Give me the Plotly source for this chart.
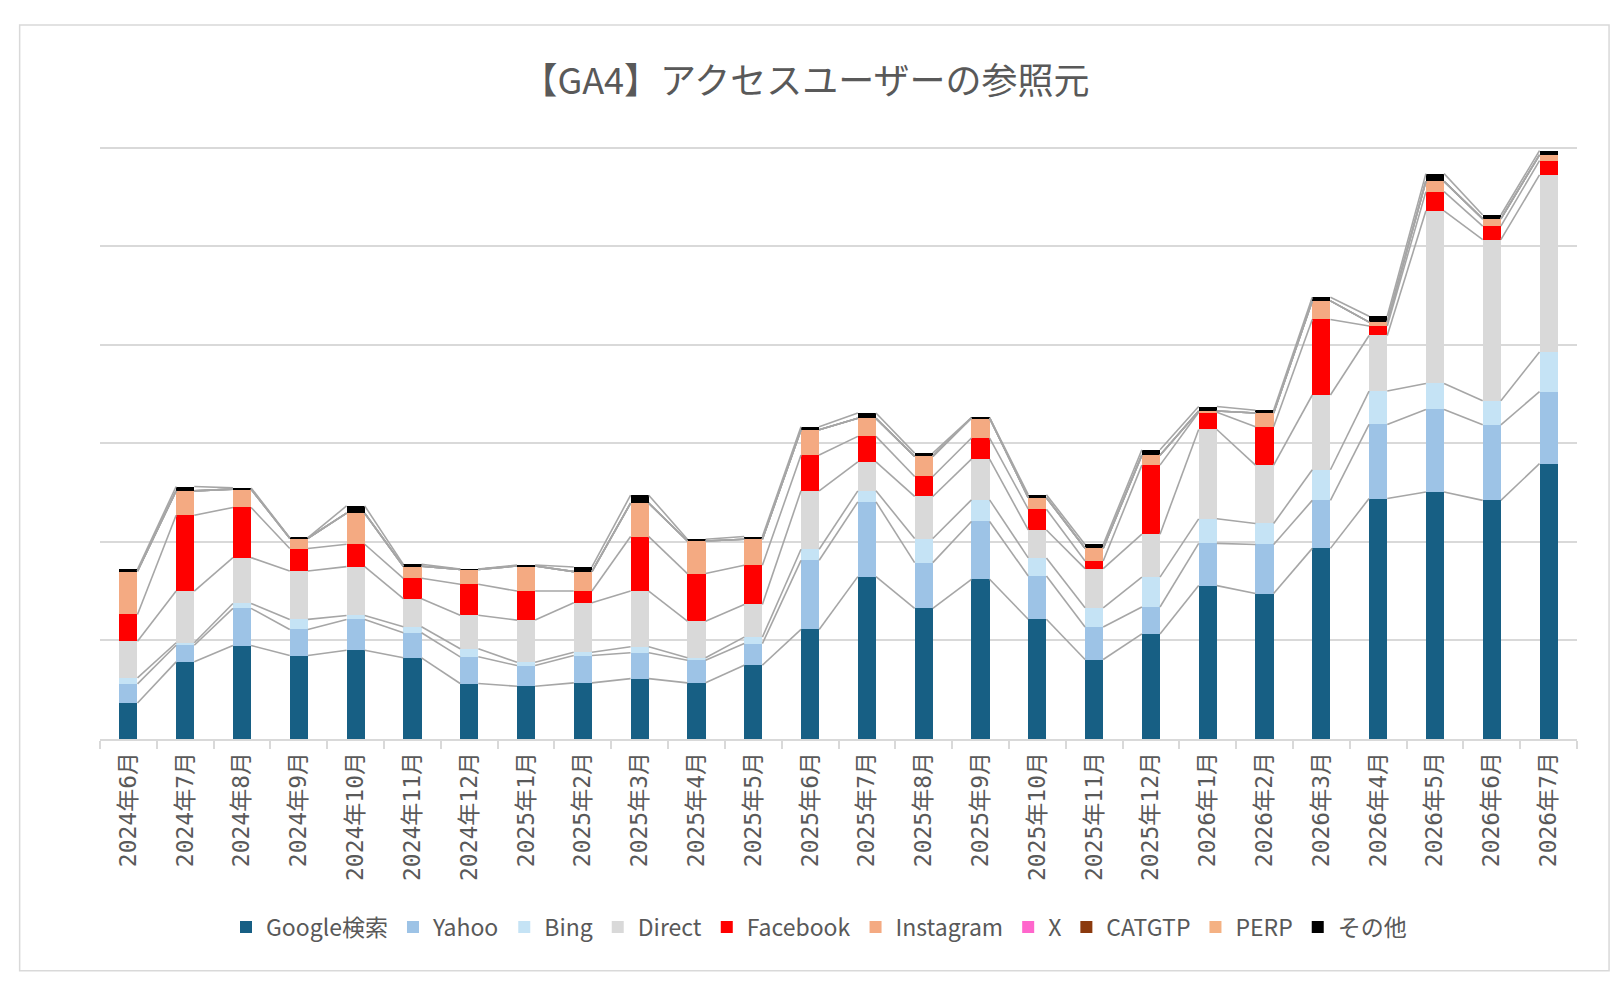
import plotly.graph_objects as go

# 【GA4】アクセスユーザーの参照元 - stacked bars with series lines
months = [
    "2024年6月", "2024年7月", "2024年8月", "2024年9月", "2024年10月", "2024年11月",
    "2024年12月", "2025年1月", "2025年2月", "2025年3月", "2025年4月", "2025年5月",
    "2025年6月", "2025年7月", "2025年8月", "2025年9月", "2025年10月", "2025年11月",
    "2025年12月", "2026年1月", "2026年2月", "2026年3月", "2026年4月", "2026年5月",
    "2026年6月", "2026年7月",
]

google = [36.6, 78.3, 94.9, 84.7, 90.1, 82.4, 56.3, 53.5, 57.0, 61.3, 57.0, 74.9, 111.2,
          164.8, 132.6, 162.1, 121.5, 80.7, 106.7, 155.7, 147.6, 193.5, 244.1, 250.8, 242.2, 279.5]
yahoo = [19.4, 16.9, 37.7, 26.5, 31.3, 25.4, 27.1, 21.1, 27.7, 26.2, 23.0, 22.0, 70.2,
         75.9, 46.4, 58.7, 44.0, 33.0, 27.3, 42.9, 49.9, 48.7, 75.2, 83.7, 76.7, 73.2]
bing = [6.0, 2.5, 5.0, 10.2, 4.0, 6.1, 8.2, 3.3, 3.4, 6.1, 2.4, 6.5, 11.2,
        11.2, 24.5, 21.9, 18.3, 19.5, 30.3, 24.9, 21.3, 31.1, 33.9, 26.4, 24.5, 40.1]
direct = [37.3, 52.5, 46.5, 49.1, 49.6, 28.5, 34.1, 42.8, 50.2, 56.6, 37.2, 33.2, 59.3,
          29.5, 42.7, 41.4, 28.4, 39.7, 43.6, 90.7, 59.2, 75.9, 56.4, 175.2, 163.5, 179.8]
facebook = [27.1, 77.0, 50.9, 22.8, 22.7, 20.7, 31.3, 29.5, 11.9, 55.3, 48.3, 39.7, 36.3,
            25.8, 20.3, 21.4, 21.1, 7.8, 70.1, 17.5, 39.0, 76.7, 9.7, 19.5, 13.7, 14.5]
instagram = [44.1, 24.7, 18.6, 10.5, 31.5, 12.2, 15.2, 25.4, 19.7, 33.9, 33.1, 26.4, 25.7,
             18.3, 20.4, 20.3, 11.7, 12.9, 10.1, 1.3, 13.9, 18.8, 3.9, 10.5, 7.4, 5.8]
x_sns = [0] * 26
catgtp = [0] * 26
perp = [0] * 26
other = [1.7, 4.4, 1.3, 0.5, 7.4, 2.0, 0.3, 1.0, 4.7, 8.1, 1.7, 2.8, 3.1,
         5.4, 3.3, 0.5, 3.0, 3.9, 5.5, 4.5, 2.8, 3.8, 5.9, 7.8, 3.9, 4.4]

series = [
    ("Google検索", google, "#175f84"),
    ("Yahoo", yahoo, "#9dc3e6"),
    ("Bing", bing, "#c5e3f5"),
    ("Direct", direct, "#d9d9d9"),
    ("Facebook", facebook, "#ff0000"),
    ("Instagram", instagram, "#f4aa82"),
    ("X", x_sns, "#ff66cc"),
    ("CATGTP", catgtp, "#8b3a0e"),
    ("PERP", perp, "#f4b183"),
    ("その他", other, "#000000"),
]

bar_w = 0.32
xs = list(range(len(months)))
font_jp = "Noto Sans CJK JP"
text_col = "#595959"

fig = go.Figure()

for name, vals, col in series:
    fig.add_trace(go.Bar(x=xs, y=vals, name=name, marker_color=col,
                         marker_line_width=0, width=bar_w))

# series lines (Excel style) between the tops of each stacked segment
running = [0.0] * len(months)
for name, vals, col in series:
    running = [r + v for r, v in zip(running, vals)]
    lx, ly = [], []
    for i in range(len(months) - 1):
        lx += [i + bar_w / 2, i + 1 - bar_w / 2, None]
        ly += [running[i], running[i + 1], None]
    fig.add_trace(go.Scatter(x=lx, y=ly, mode="lines", showlegend=False,
                             hoverinfo="skip",
                             line=dict(color="#a6a6a6", width=1.6)))

# outer chart border (plot area is 1477 x 597 px)
fig.add_shape(type="rect", xref="paper", yref="paper",
              x0=-0.0544, x1=1.0217, y0=-0.388, y1=1.196,
              line=dict(color="#d9d9d9", width=1.5), layer="below")

fig.update_layout(
    barmode="stack",
    width=1608, height=974,
    margin=dict(l=92, r=39, t=134, b=243, autoexpand=False),
    paper_bgcolor="white", plot_bgcolor="white",
    title=dict(text="【GA4】アクセスユーザーの参照元", x=0.496, xref="container",
               y=0.9243, yref="container", xanchor="center", yanchor="middle",
               font=dict(family=font_jp, size=36, color=text_col)),
    legend=dict(orientation="h", x=0.4868, xanchor="center",
                y=-0.315, yanchor="middle",
                traceorder="normal", font=dict(family=font_jp, size=23, color=text_col),
                itemwidth=30),
    showlegend=True,
)

fig.update_xaxes(
    range=[-0.5, len(months) - 0.5],
    tickvals=xs, ticktext=months, tickangle=-90, ticks="",
    ticklabelstandoff=2,
    tickfont=dict(family="DejaVu Sans Mono, " + font_jp, size=23, color=text_col),
    showline=True, linecolor="#d9d9d9", linewidth=1.5,
    showgrid=False, zeroline=False,
    minor=dict(tickvals=[i - 0.5 for i in range(len(months) + 1)], ticks="outside",
               ticklen=8, tickcolor="#d9d9d9", tickwidth=1.5, showgrid=False),
)
fig.update_yaxes(
    range=[0, 606], tickvals=[100, 200, 300, 400, 500, 600], showticklabels=False,
    showgrid=True, gridcolor="#d9d9d9", gridwidth=1.5, zeroline=False,
)

fig.write_html("out.html")
